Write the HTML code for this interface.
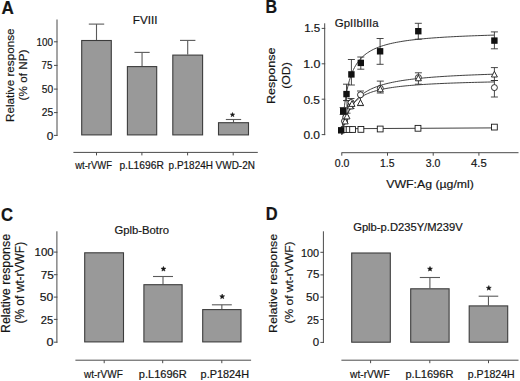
<!DOCTYPE html>
<html><head><meta charset="utf-8"><style>
html,body{margin:0;padding:0;background:#fff;width:520px;height:381px;overflow:hidden;}
svg{display:block;font-family:"Liberation Sans", sans-serif;}
text{fill:#151515;}
</style></head><body>
<svg width="520" height="381" viewBox="0 0 520 381">
<rect width="520" height="381" fill="#fff"/>
<text x="1.40" y="14.33" font-size="17.50" font-weight="bold" textLength="12.31" lengthAdjust="spacingAndGlyphs" stroke="#151515" stroke-width="0.2">A</text>
<text x="132.80" y="23.80" font-size="10.90" font-weight="normal" textLength="24.65" lengthAdjust="spacingAndGlyphs" stroke="#151515" stroke-width="0.18">FVIII</text>
<text x="36.60" y="45.95" font-size="10.30" font-weight="normal" textLength="16.50" lengthAdjust="spacingAndGlyphs" stroke="#151515" stroke-width="0.18">100</text>
<text x="41.60" y="69.00" font-size="10.30" font-weight="normal" textLength="10.86" lengthAdjust="spacingAndGlyphs" stroke="#151515" stroke-width="0.18">75</text>
<text x="41.80" y="92.85" font-size="10.30" font-weight="normal" textLength="11.42" lengthAdjust="spacingAndGlyphs" stroke="#151515" stroke-width="0.18">50</text>
<text x="41.80" y="116.45" font-size="10.30" font-weight="normal" textLength="11.42" lengthAdjust="spacingAndGlyphs" stroke="#151515" stroke-width="0.18">25</text>
<text x="46.80" y="140.05" font-size="10.30" font-weight="normal" textLength="6.60" lengthAdjust="spacingAndGlyphs" stroke="#151515" stroke-width="0.18">0</text>
<text transform="translate(14.15,122.00) rotate(-90)" font-size="11.20" font-weight="normal" textLength="93.54" lengthAdjust="spacingAndGlyphs" stroke="#151515" stroke-width="0.18">Relative response</text>
<text transform="translate(27.40,100.40) rotate(-90)" font-size="11.20" font-weight="normal" textLength="50.84" lengthAdjust="spacingAndGlyphs" stroke="#151515" stroke-width="0.18">(% of NP)</text>
<text x="75.20" y="169.05" font-size="10.20" font-weight="normal" textLength="36.79" lengthAdjust="spacingAndGlyphs" stroke="#151515" stroke-width="0.18">wt-rVWF</text>
<text x="119.40" y="169.35" font-size="10.20" font-weight="normal" textLength="44.41" lengthAdjust="spacingAndGlyphs" stroke="#151515" stroke-width="0.18">p.L1696R</text>
<text x="168.60" y="169.35" font-size="10.20" font-weight="normal" textLength="44.38" lengthAdjust="spacingAndGlyphs" stroke="#151515" stroke-width="0.18">p.P1824H</text>
<text x="215.60" y="169.05" font-size="10.20" font-weight="normal" textLength="39.30" lengthAdjust="spacingAndGlyphs" stroke="#151515" stroke-width="0.18">VWD-2N</text>
<line x1="57.00" y1="19.50" x2="57.00" y2="135.90" stroke="#4a4a4a" stroke-width="1"/>
<line x1="54.00" y1="41.80" x2="57.50" y2="41.80" stroke="#4a4a4a" stroke-width="1"/>
<line x1="54.00" y1="65.40" x2="57.50" y2="65.40" stroke="#4a4a4a" stroke-width="1"/>
<line x1="54.00" y1="89.10" x2="57.50" y2="89.10" stroke="#4a4a4a" stroke-width="1"/>
<line x1="54.00" y1="112.60" x2="57.50" y2="112.60" stroke="#4a4a4a" stroke-width="1"/>
<line x1="54.00" y1="135.40" x2="57.50" y2="135.40" stroke="#4a4a4a" stroke-width="1"/>
<line x1="96.50" y1="40.00" x2="96.50" y2="24.10" stroke="#5a5a5a" stroke-width="1.1"/>
<line x1="88.80" y1="24.10" x2="104.20" y2="24.10" stroke="#5a5a5a" stroke-width="1.1"/>
<rect x="81.70" y="40.50" width="29.60" height="94.40" fill="#999999" stroke="#3c3c3c" stroke-width="1.1"/>
<line x1="142.05" y1="66.10" x2="142.05" y2="52.40" stroke="#5a5a5a" stroke-width="1.1"/>
<line x1="134.45" y1="52.40" x2="149.65" y2="52.40" stroke="#5a5a5a" stroke-width="1.1"/>
<rect x="127.40" y="66.60" width="29.30" height="68.30" fill="#999999" stroke="#3c3c3c" stroke-width="1.1"/>
<line x1="187.70" y1="54.60" x2="187.70" y2="40.40" stroke="#5a5a5a" stroke-width="1.1"/>
<line x1="180.00" y1="40.40" x2="195.40" y2="40.40" stroke="#5a5a5a" stroke-width="1.1"/>
<rect x="172.80" y="55.10" width="29.80" height="79.80" fill="#999999" stroke="#3c3c3c" stroke-width="1.1"/>
<line x1="233.50" y1="122.20" x2="233.50" y2="119.50" stroke="#5a5a5a" stroke-width="1.1"/>
<line x1="225.85" y1="119.50" x2="241.15" y2="119.50" stroke="#5a5a5a" stroke-width="1.1"/>
<rect x="218.50" y="122.70" width="30.00" height="12.20" fill="#999999" stroke="#3c3c3c" stroke-width="1.1"/>
<path d="M232.50,112.50 L233.09,113.99 L234.69,114.09 L233.45,115.11 L233.85,116.66 L232.50,115.80 L231.15,116.66 L231.55,115.11 L230.31,114.09 L231.91,113.99 Z" fill="#151515" stroke="#151515" stroke-width="0.5" stroke-linejoin="round"/>
<line x1="73.40" y1="152.40" x2="257.80" y2="152.40" stroke="#4a4a4a" stroke-width="1"/>
<line x1="96.50" y1="152.40" x2="96.50" y2="155.40" stroke="#4a4a4a" stroke-width="1"/>
<line x1="141.90" y1="152.40" x2="141.90" y2="155.40" stroke="#4a4a4a" stroke-width="1"/>
<line x1="187.60" y1="152.40" x2="187.60" y2="155.40" stroke="#4a4a4a" stroke-width="1"/>
<line x1="233.20" y1="152.40" x2="233.20" y2="155.40" stroke="#4a4a4a" stroke-width="1"/>
<text x="265.60" y="13.48" font-size="17.50" font-weight="bold" textLength="11.59" lengthAdjust="spacingAndGlyphs" stroke="#151515" stroke-width="0.2">B</text>
<text x="334.80" y="26.80" font-size="11.40" font-weight="normal" textLength="43.86" lengthAdjust="spacingAndGlyphs" stroke="#151515" stroke-width="0.18">GpIIbIIIa</text>
<text x="304.20" y="31.85" font-size="10.70" font-weight="normal" textLength="16.04" lengthAdjust="spacingAndGlyphs" stroke="#151515" stroke-width="0.18">1.5</text>
<text x="303.20" y="67.65" font-size="10.70" font-weight="normal" textLength="17.21" lengthAdjust="spacingAndGlyphs" stroke="#151515" stroke-width="0.18">1.0</text>
<text x="303.40" y="104.05" font-size="10.70" font-weight="normal" textLength="16.64" lengthAdjust="spacingAndGlyphs" stroke="#151515" stroke-width="0.18">0.5</text>
<text x="303.40" y="139.25" font-size="10.70" font-weight="normal" textLength="16.64" lengthAdjust="spacingAndGlyphs" stroke="#151515" stroke-width="0.18">0.0</text>
<text transform="translate(274.75,104.00) rotate(-90)" font-size="10.20" font-weight="normal" textLength="56.37" lengthAdjust="spacingAndGlyphs" stroke="#151515" stroke-width="0.18">Response</text>
<text transform="translate(290.05,88.80) rotate(-90)" font-size="10.20" font-weight="normal" textLength="26.58" lengthAdjust="spacingAndGlyphs" stroke="#151515" stroke-width="0.18">(OD)</text>
<text x="334.80" y="166.75" font-size="10.10" font-weight="normal" textLength="14.62" lengthAdjust="spacingAndGlyphs" stroke="#151515" stroke-width="0.18">0.0</text>
<text x="380.00" y="166.75" font-size="10.10" font-weight="normal" textLength="14.49" lengthAdjust="spacingAndGlyphs" stroke="#151515" stroke-width="0.18">1.5</text>
<text x="425.80" y="166.75" font-size="10.10" font-weight="normal" textLength="14.62" lengthAdjust="spacingAndGlyphs" stroke="#151515" stroke-width="0.18">3.0</text>
<text x="471.00" y="166.75" font-size="10.10" font-weight="normal" textLength="15.72" lengthAdjust="spacingAndGlyphs" stroke="#151515" stroke-width="0.18">4.5</text>
<text x="386.20" y="187.75" font-size="11.20" font-weight="normal" textLength="87.77" lengthAdjust="spacingAndGlyphs" stroke="#151515" stroke-width="0.18">VWF:Ag (µg/ml)</text>
<line x1="324.70" y1="23.30" x2="324.70" y2="135.10" stroke="#4a4a4a" stroke-width="1"/>
<line x1="321.70" y1="28.40" x2="325.20" y2="28.40" stroke="#4a4a4a" stroke-width="1"/>
<line x1="321.70" y1="63.80" x2="325.20" y2="63.80" stroke="#4a4a4a" stroke-width="1"/>
<line x1="321.70" y1="99.20" x2="325.20" y2="99.20" stroke="#4a4a4a" stroke-width="1"/>
<line x1="321.70" y1="134.60" x2="325.20" y2="134.60" stroke="#4a4a4a" stroke-width="1"/>
<line x1="341.50" y1="152.70" x2="518.50" y2="152.70" stroke="#4a4a4a" stroke-width="1"/>
<line x1="341.80" y1="152.70" x2="341.80" y2="155.70" stroke="#4a4a4a" stroke-width="1"/>
<line x1="387.50" y1="152.70" x2="387.50" y2="155.70" stroke="#4a4a4a" stroke-width="1"/>
<line x1="433.21" y1="152.70" x2="433.21" y2="155.70" stroke="#4a4a4a" stroke-width="1"/>
<line x1="478.92" y1="152.70" x2="478.92" y2="155.70" stroke="#4a4a4a" stroke-width="1"/>
<path d="M341.80,134.60 L341.82,134.32 L341.88,133.49 L341.97,132.15 L342.10,130.31 L342.27,128.06 L342.48,125.43 L342.72,122.50 L343.00,119.34 L343.32,116.01 L343.68,112.58 L344.08,109.09 L344.51,105.59 L344.98,102.12 L345.49,98.72 L346.03,95.41 L346.62,92.21 L347.24,89.14 L347.89,86.19 L348.59,83.38 L349.32,80.72 L350.09,78.19 L350.90,75.79 L351.75,73.54 L352.63,71.40 L353.56,69.40 L354.51,67.51 L355.51,65.73 L356.55,64.05 L357.62,62.48 L358.73,61.00 L359.88,59.60 L361.06,58.29 L362.28,57.06 L363.54,55.89 L364.84,54.80 L366.18,53.76 L367.55,52.79 L368.96,51.87 L370.41,51.00 L371.89,50.18 L373.42,49.41 L374.98,48.67 L376.58,47.98 L378.21,47.32 L379.89,46.70 L381.60,46.11 L383.35,45.55 L385.14,45.01 L386.96,44.51 L388.82,44.02 L390.72,43.56 L392.66,43.13 L394.63,42.71 L396.65,42.32 L398.70,41.94 L400.78,41.58 L402.91,41.23 L405.07,40.90 L407.27,40.59 L409.51,40.29 L411.79,40.00 L414.10,39.72 L416.45,39.46 L418.84,39.20 L421.27,38.96 L423.73,38.72 L426.23,38.50 L428.77,38.29 L431.35,38.08 L433.96,37.88 L436.61,37.69 L439.30,37.50 L442.03,37.33 L444.80,37.15 L447.60,36.99 L450.44,36.83 L453.32,36.68 L456.23,36.53 L459.18,36.39 L462.18,36.25 L465.20,36.12 L468.27,35.99 L471.37,35.86 L474.51,35.74 L477.69,35.63 L480.91,35.52 L484.16,35.41 L487.45,35.30 L490.78,35.20 L494.15,35.10" fill="none" stroke="#2a2a2a" stroke-width="0.9"/>
<path d="M341.80,134.60 L341.82,134.50 L341.88,134.22 L341.97,133.75 L342.10,133.10 L342.27,132.28 L342.48,131.31 L342.72,130.20 L343.00,128.97 L343.32,127.63 L343.68,126.21 L344.08,124.71 L344.51,123.16 L344.98,121.57 L345.49,119.95 L346.03,118.33 L346.62,116.70 L347.24,115.08 L347.89,113.47 L348.59,111.90 L349.32,110.35 L350.09,108.85 L350.90,107.38 L351.75,105.95 L352.63,104.58 L353.56,103.24 L354.51,101.96 L355.51,100.73 L356.55,99.54 L357.62,98.40 L358.73,97.31 L359.88,96.26 L361.06,95.25 L362.28,94.29 L363.54,93.37 L364.84,92.50 L366.18,91.66 L367.55,90.85 L368.96,90.09 L370.41,89.35 L371.89,88.65 L373.42,87.98 L374.98,87.34 L376.58,86.73 L378.21,86.14 L379.89,85.58 L381.60,85.04 L383.35,84.53 L385.14,84.04 L386.96,83.57 L388.82,83.12 L390.72,82.69 L392.66,82.28 L394.63,81.88 L396.65,81.50 L398.70,81.14 L400.78,80.79 L402.91,80.45 L405.07,80.13 L407.27,79.82 L409.51,79.52 L411.79,79.23 L414.10,78.96 L416.45,78.69 L418.84,78.44 L421.27,78.19 L423.73,77.96 L426.23,77.73 L428.77,77.51 L431.35,77.30 L433.96,77.09 L436.61,76.90 L439.30,76.71 L442.03,76.52 L444.80,76.35 L447.60,76.18 L450.44,76.01 L453.32,75.85 L456.23,75.70 L459.18,75.55 L462.18,75.40 L465.20,75.26 L468.27,75.13 L471.37,75.00 L474.51,74.87 L477.69,74.75 L480.91,74.63 L484.16,74.51 L487.45,74.40 L490.78,74.29 L494.15,74.18" fill="none" stroke="#2a2a2a" stroke-width="0.9"/>
<path d="M341.80,134.60 L341.82,134.49 L341.88,134.16 L341.97,133.62 L342.10,132.87 L342.27,131.95 L342.48,130.86 L342.72,129.63 L343.00,128.28 L343.32,126.83 L343.68,125.31 L344.08,123.74 L344.51,122.14 L344.98,120.52 L345.49,118.90 L346.03,117.29 L346.62,115.72 L347.24,114.17 L347.89,112.67 L348.59,111.21 L349.32,109.80 L350.09,108.45 L350.90,107.15 L351.75,105.91 L352.63,104.72 L353.56,103.59 L354.51,102.51 L355.51,101.48 L356.55,100.51 L357.62,99.58 L358.73,98.70 L359.88,97.87 L361.06,97.07 L362.28,96.32 L363.54,95.61 L364.84,94.93 L366.18,94.29 L367.55,93.68 L368.96,93.10 L370.41,92.55 L371.89,92.03 L373.42,91.53 L374.98,91.06 L376.58,90.61 L378.21,90.19 L379.89,89.78 L381.60,89.40 L383.35,89.03 L385.14,88.68 L386.96,88.34 L388.82,88.02 L390.72,87.72 L392.66,87.43 L394.63,87.15 L396.65,86.89 L398.70,86.63 L400.78,86.39 L402.91,86.16 L405.07,85.93 L407.27,85.72 L409.51,85.52 L411.79,85.32 L414.10,85.13 L416.45,84.95 L418.84,84.78 L421.27,84.61 L423.73,84.45 L426.23,84.30 L428.77,84.15 L431.35,84.00 L433.96,83.87 L436.61,83.74 L439.30,83.61 L442.03,83.49 L444.80,83.37 L447.60,83.25 L450.44,83.14 L453.32,83.04 L456.23,82.93 L459.18,82.83 L462.18,82.74 L465.20,82.64 L468.27,82.56 L471.37,82.47 L474.51,82.38 L477.69,82.30 L480.91,82.22 L484.16,82.15 L487.45,82.07 L490.78,82.00 L494.15,81.93" fill="none" stroke="#2a2a2a" stroke-width="0.9"/>
<path d="M341.5,129.8 L344,129.2 L350,128.7 L380,128.5 L494.4,127.9" fill="none" stroke="#2a2a2a" stroke-width="0.9"/>
<line x1="494.40" y1="67.60" x2="494.40" y2="80.50" stroke="#333" stroke-width="0.9"/>
<line x1="490.90" y1="67.60" x2="497.90" y2="67.60" stroke="#333" stroke-width="0.9"/>
<line x1="490.90" y1="80.50" x2="497.90" y2="80.50" stroke="#333" stroke-width="0.9"/>
<line x1="494.40" y1="80.50" x2="494.40" y2="97.00" stroke="#333" stroke-width="0.9"/>
<line x1="490.90" y1="80.50" x2="497.90" y2="80.50" stroke="#333" stroke-width="0.9"/>
<line x1="490.90" y1="97.00" x2="497.90" y2="97.00" stroke="#333" stroke-width="0.9"/>
<line x1="418.40" y1="72.80" x2="418.40" y2="84.20" stroke="#333" stroke-width="0.9"/>
<line x1="414.90" y1="72.80" x2="421.90" y2="72.80" stroke="#333" stroke-width="0.9"/>
<line x1="414.90" y1="84.20" x2="421.90" y2="84.20" stroke="#333" stroke-width="0.9"/>
<line x1="380.30" y1="81.10" x2="380.30" y2="93.00" stroke="#333" stroke-width="0.9"/>
<line x1="376.80" y1="81.10" x2="383.80" y2="81.10" stroke="#333" stroke-width="0.9"/>
<line x1="376.80" y1="93.00" x2="383.80" y2="93.00" stroke="#333" stroke-width="0.9"/>
<line x1="360.50" y1="91.00" x2="360.50" y2="105.60" stroke="#333" stroke-width="0.9"/>
<line x1="357.00" y1="91.00" x2="364.00" y2="91.00" stroke="#333" stroke-width="0.9"/>
<line x1="357.00" y1="105.60" x2="364.00" y2="105.60" stroke="#333" stroke-width="0.9"/>
<line x1="351.00" y1="98.50" x2="351.00" y2="108.50" stroke="#333" stroke-width="0.9"/>
<line x1="347.50" y1="98.50" x2="354.50" y2="98.50" stroke="#333" stroke-width="0.9"/>
<line x1="347.50" y1="108.50" x2="354.50" y2="108.50" stroke="#333" stroke-width="0.9"/>
<line x1="347.00" y1="100.70" x2="347.00" y2="113.20" stroke="#333" stroke-width="0.9"/>
<line x1="343.50" y1="100.70" x2="350.50" y2="100.70" stroke="#333" stroke-width="0.9"/>
<line x1="343.50" y1="113.20" x2="350.50" y2="113.20" stroke="#333" stroke-width="0.9"/>
<rect x="341.30" y="126.70" width="5.8" height="5.8" fill="#fff" stroke="#1a1a1a" stroke-width="0.9"/>
<rect x="346.20" y="126.60" width="5.8" height="5.8" fill="#fff" stroke="#1a1a1a" stroke-width="0.9"/>
<rect x="349.70" y="126.60" width="5.8" height="5.8" fill="#fff" stroke="#1a1a1a" stroke-width="0.9"/>
<rect x="358.00" y="126.50" width="5.8" height="5.8" fill="#fff" stroke="#1a1a1a" stroke-width="0.9"/>
<rect x="377.30" y="126.10" width="5.8" height="5.8" fill="#fff" stroke="#1a1a1a" stroke-width="0.9"/>
<rect x="415.10" y="125.40" width="5.8" height="5.8" fill="#fff" stroke="#1a1a1a" stroke-width="0.9"/>
<rect x="491.50" y="124.20" width="5.8" height="5.8" fill="#fff" stroke="#1a1a1a" stroke-width="0.9"/>
<circle cx="344.5" cy="121.1" r="3.0" fill="#fff" stroke="#1a1a1a" stroke-width="0.9"/>
<circle cx="345.8" cy="117.2" r="3.0" fill="#fff" stroke="#1a1a1a" stroke-width="0.9"/>
<circle cx="350.4" cy="106.0" r="3.0" fill="#fff" stroke="#1a1a1a" stroke-width="0.9"/>
<circle cx="351.1" cy="102.5" r="3.0" fill="#fff" stroke="#1a1a1a" stroke-width="0.9"/>
<circle cx="360.5" cy="94.8" r="3.0" fill="#fff" stroke="#1a1a1a" stroke-width="0.9"/>
<circle cx="380.3" cy="88.4" r="3.0" fill="#fff" stroke="#1a1a1a" stroke-width="0.9"/>
<circle cx="418.4" cy="77.6" r="3.0" fill="#fff" stroke="#1a1a1a" stroke-width="0.9"/>
<circle cx="494.4" cy="87.6" r="3.0" fill="#fff" stroke="#1a1a1a" stroke-width="0.9"/>
<path d="M345.20,118.20 L348.20,123.90 L342.20,123.90 Z" fill="#fff" stroke="#1a1a1a" stroke-width="0.9"/>
<path d="M347.00,113.20 L350.00,118.90 L344.00,118.90 Z" fill="#fff" stroke="#1a1a1a" stroke-width="0.9"/>
<path d="M350.40,103.20 L353.40,108.90 L347.40,108.90 Z" fill="#fff" stroke="#1a1a1a" stroke-width="0.9"/>
<path d="M352.00,100.70 L355.00,106.40 L349.00,106.40 Z" fill="#fff" stroke="#1a1a1a" stroke-width="0.9"/>
<path d="M360.50,99.70 L363.50,105.40 L357.50,105.40 Z" fill="#fff" stroke="#1a1a1a" stroke-width="0.9"/>
<path d="M380.30,86.10 L383.30,91.80 L377.30,91.80 Z" fill="#fff" stroke="#1a1a1a" stroke-width="0.9"/>
<path d="M418.40,75.10 L421.40,80.80 L415.40,80.80 Z" fill="#fff" stroke="#1a1a1a" stroke-width="0.9"/>
<path d="M494.40,71.30 L497.40,77.00 L491.40,77.00 Z" fill="#fff" stroke="#1a1a1a" stroke-width="0.9"/>
<line x1="343.20" y1="107.50" x2="343.20" y2="114.50" stroke="#333" stroke-width="0.9"/>
<line x1="339.70" y1="107.50" x2="346.70" y2="107.50" stroke="#333" stroke-width="0.9"/>
<line x1="339.70" y1="114.50" x2="346.70" y2="114.50" stroke="#333" stroke-width="0.9"/>
<line x1="346.50" y1="84.20" x2="346.50" y2="100.50" stroke="#333" stroke-width="0.9"/>
<line x1="343.00" y1="84.20" x2="350.00" y2="84.20" stroke="#333" stroke-width="0.9"/>
<line x1="343.00" y1="100.50" x2="350.00" y2="100.50" stroke="#333" stroke-width="0.9"/>
<line x1="351.40" y1="59.50" x2="351.40" y2="85.00" stroke="#333" stroke-width="0.9"/>
<line x1="347.90" y1="59.50" x2="354.90" y2="59.50" stroke="#333" stroke-width="0.9"/>
<line x1="347.90" y1="85.00" x2="354.90" y2="85.00" stroke="#333" stroke-width="0.9"/>
<line x1="360.80" y1="57.00" x2="360.80" y2="69.20" stroke="#333" stroke-width="0.9"/>
<line x1="357.30" y1="57.00" x2="364.30" y2="57.00" stroke="#333" stroke-width="0.9"/>
<line x1="357.30" y1="69.20" x2="364.30" y2="69.20" stroke="#333" stroke-width="0.9"/>
<line x1="380.10" y1="38.50" x2="380.10" y2="64.30" stroke="#333" stroke-width="0.9"/>
<line x1="376.60" y1="38.50" x2="383.60" y2="38.50" stroke="#333" stroke-width="0.9"/>
<line x1="376.60" y1="64.30" x2="383.60" y2="64.30" stroke="#333" stroke-width="0.9"/>
<line x1="418.30" y1="23.30" x2="418.30" y2="39.20" stroke="#333" stroke-width="0.9"/>
<line x1="414.80" y1="23.30" x2="421.80" y2="23.30" stroke="#333" stroke-width="0.9"/>
<line x1="414.80" y1="39.20" x2="421.80" y2="39.20" stroke="#333" stroke-width="0.9"/>
<line x1="494.40" y1="31.90" x2="494.40" y2="48.80" stroke="#333" stroke-width="0.9"/>
<line x1="490.90" y1="31.90" x2="497.90" y2="31.90" stroke="#333" stroke-width="0.9"/>
<line x1="490.90" y1="48.80" x2="497.90" y2="48.80" stroke="#333" stroke-width="0.9"/>
<rect x="338.00" y="127.10" width="6.4" height="6.4" fill="#111"/>
<rect x="340.00" y="108.00" width="6.4" height="6.4" fill="#111"/>
<rect x="343.30" y="90.90" width="6.4" height="6.4" fill="#111"/>
<rect x="348.20" y="71.20" width="6.4" height="6.4" fill="#111"/>
<rect x="357.60" y="59.70" width="6.4" height="6.4" fill="#111"/>
<rect x="376.90" y="48.10" width="6.4" height="6.4" fill="#111"/>
<rect x="415.10" y="28.00" width="6.4" height="6.4" fill="#111"/>
<rect x="491.20" y="37.40" width="6.4" height="6.4" fill="#111"/>
<text x="0.90" y="220.85" font-size="17.50" font-weight="bold" textLength="12.07" lengthAdjust="spacingAndGlyphs" stroke="#151515" stroke-width="0.2">C</text>
<text x="114.40" y="234.00" font-size="10.60" font-weight="normal" textLength="54.54" lengthAdjust="spacingAndGlyphs" stroke="#151515" stroke-width="0.18">Gplb-Botro</text>
<text x="34.60" y="256.00" font-size="10.30" font-weight="normal" textLength="19.16" lengthAdjust="spacingAndGlyphs" stroke="#151515" stroke-width="0.18">100</text>
<text x="40.80" y="279.10" font-size="10.30" font-weight="normal" textLength="13.13" lengthAdjust="spacingAndGlyphs" stroke="#151515" stroke-width="0.18">75</text>
<text x="39.80" y="301.10" font-size="10.30" font-weight="normal" textLength="13.44" lengthAdjust="spacingAndGlyphs" stroke="#151515" stroke-width="0.18">50</text>
<text x="40.80" y="323.90" font-size="10.30" font-weight="normal" textLength="12.41" lengthAdjust="spacingAndGlyphs" stroke="#151515" stroke-width="0.18">25</text>
<text x="46.60" y="345.70" font-size="10.30" font-weight="normal" textLength="7.04" lengthAdjust="spacingAndGlyphs" stroke="#151515" stroke-width="0.18">0</text>
<text transform="translate(10.10,333.00) rotate(-90)" font-size="12.00" font-weight="normal" textLength="99.07" lengthAdjust="spacingAndGlyphs" stroke="#151515" stroke-width="0.18">Relative response</text>
<text transform="translate(23.75,323.60) rotate(-90)" font-size="12.00" font-weight="normal" textLength="81.76" lengthAdjust="spacingAndGlyphs" stroke="#151515" stroke-width="0.18">(% of wt-rVWF)</text>
<text x="84.00" y="377.75" font-size="10.20" font-weight="normal" textLength="38.78" lengthAdjust="spacingAndGlyphs" stroke="#151515" stroke-width="0.18">wt-rVWF</text>
<text x="138.80" y="377.95" font-size="10.20" font-weight="normal" textLength="47.96" lengthAdjust="spacingAndGlyphs" stroke="#151515" stroke-width="0.18">p.L1696R</text>
<text x="200.60" y="378.25" font-size="10.20" font-weight="normal" textLength="48.45" lengthAdjust="spacingAndGlyphs" stroke="#151515" stroke-width="0.18">p.P1824H</text>
<line x1="56.90" y1="231.30" x2="56.90" y2="342.70" stroke="#4a4a4a" stroke-width="1"/>
<line x1="53.90" y1="252.10" x2="57.40" y2="252.10" stroke="#4a4a4a" stroke-width="1"/>
<line x1="53.90" y1="274.70" x2="57.40" y2="274.70" stroke="#4a4a4a" stroke-width="1"/>
<line x1="53.90" y1="297.10" x2="57.40" y2="297.10" stroke="#4a4a4a" stroke-width="1"/>
<line x1="53.90" y1="319.40" x2="57.40" y2="319.40" stroke="#4a4a4a" stroke-width="1"/>
<line x1="53.90" y1="342.20" x2="57.40" y2="342.20" stroke="#4a4a4a" stroke-width="1"/>
<rect x="84.70" y="252.80" width="38.80" height="89.10" fill="#999999" stroke="#3c3c3c" stroke-width="1.1"/>
<line x1="163.00" y1="284.20" x2="163.00" y2="276.50" stroke="#5a5a5a" stroke-width="1.1"/>
<line x1="153.00" y1="276.50" x2="173.00" y2="276.50" stroke="#5a5a5a" stroke-width="1.1"/>
<rect x="143.90" y="284.70" width="38.20" height="57.20" fill="#999999" stroke="#3c3c3c" stroke-width="1.1"/>
<path d="M163.45,266.40 L164.13,268.07 L165.92,268.20 L164.54,269.36 L164.98,271.10 L163.45,270.15 L161.92,271.10 L162.36,269.36 L160.98,268.20 L162.77,268.07 Z" fill="#151515" stroke="#151515" stroke-width="0.5" stroke-linejoin="round"/>
<line x1="221.85" y1="309.10" x2="221.85" y2="304.80" stroke="#5a5a5a" stroke-width="1.1"/>
<line x1="211.90" y1="304.80" x2="231.80" y2="304.80" stroke="#5a5a5a" stroke-width="1.1"/>
<rect x="202.70" y="309.60" width="38.30" height="32.30" fill="#999999" stroke="#3c3c3c" stroke-width="1.1"/>
<path d="M222.20,294.00 L222.88,295.67 L224.67,295.80 L223.29,296.96 L223.73,298.70 L222.20,297.75 L220.67,298.70 L221.11,296.96 L219.73,295.80 L221.52,295.67 Z" fill="#151515" stroke="#151515" stroke-width="0.5" stroke-linejoin="round"/>
<line x1="75.40" y1="360.20" x2="251.10" y2="360.20" stroke="#4a4a4a" stroke-width="1"/>
<line x1="104.20" y1="360.20" x2="104.20" y2="363.20" stroke="#4a4a4a" stroke-width="1"/>
<line x1="162.70" y1="360.20" x2="162.70" y2="363.20" stroke="#4a4a4a" stroke-width="1"/>
<line x1="221.80" y1="360.20" x2="221.80" y2="363.20" stroke="#4a4a4a" stroke-width="1"/>
<text x="265.80" y="220.45" font-size="17.50" font-weight="bold" textLength="11.86" lengthAdjust="spacingAndGlyphs" stroke="#151515" stroke-width="0.2">D</text>
<text x="353.20" y="230.75" font-size="10.60" font-weight="normal" textLength="109.49" lengthAdjust="spacingAndGlyphs" stroke="#151515" stroke-width="0.18">Gplb-p.D235Y/M239V</text>
<text x="301.00" y="256.75" font-size="10.30" font-weight="normal" textLength="18.09" lengthAdjust="spacingAndGlyphs" stroke="#151515" stroke-width="0.18">100</text>
<text x="306.60" y="278.35" font-size="10.30" font-weight="normal" textLength="12.97" lengthAdjust="spacingAndGlyphs" stroke="#151515" stroke-width="0.18">75</text>
<text x="306.00" y="301.10" font-size="10.30" font-weight="normal" textLength="12.97" lengthAdjust="spacingAndGlyphs" stroke="#151515" stroke-width="0.18">50</text>
<text x="307.00" y="323.90" font-size="10.30" font-weight="normal" textLength="11.89" lengthAdjust="spacingAndGlyphs" stroke="#151515" stroke-width="0.18">25</text>
<text x="312.80" y="345.70" font-size="10.30" font-weight="normal" textLength="6.37" lengthAdjust="spacingAndGlyphs" stroke="#151515" stroke-width="0.18">0</text>
<text transform="translate(277.40,333.00) rotate(-90)" font-size="11.80" font-weight="normal" textLength="99.20" lengthAdjust="spacingAndGlyphs" stroke="#151515" stroke-width="0.18">Relative response</text>
<text transform="translate(293.10,323.60) rotate(-90)" font-size="11.80" font-weight="normal" textLength="82.20" lengthAdjust="spacingAndGlyphs" stroke="#151515" stroke-width="0.18">(% of wt-rVWF)</text>
<text x="350.00" y="378.20" font-size="10.20" font-weight="normal" textLength="39.78" lengthAdjust="spacingAndGlyphs" stroke="#151515" stroke-width="0.18">wt-rVWF</text>
<text x="405.40" y="378.25" font-size="10.20" font-weight="normal" textLength="48.04" lengthAdjust="spacingAndGlyphs" stroke="#151515" stroke-width="0.18">p.L1696R</text>
<text x="467.80" y="378.25" font-size="10.20" font-weight="normal" textLength="46.93" lengthAdjust="spacingAndGlyphs" stroke="#151515" stroke-width="0.18">p.P1824H</text>
<line x1="323.40" y1="231.30" x2="323.40" y2="342.90" stroke="#4a4a4a" stroke-width="1"/>
<line x1="320.40" y1="252.30" x2="323.90" y2="252.30" stroke="#4a4a4a" stroke-width="1"/>
<line x1="320.40" y1="274.90" x2="323.90" y2="274.90" stroke="#4a4a4a" stroke-width="1"/>
<line x1="320.40" y1="297.10" x2="323.90" y2="297.10" stroke="#4a4a4a" stroke-width="1"/>
<line x1="320.40" y1="319.50" x2="323.90" y2="319.50" stroke="#4a4a4a" stroke-width="1"/>
<line x1="320.40" y1="342.40" x2="323.90" y2="342.40" stroke="#4a4a4a" stroke-width="1"/>
<rect x="351.70" y="253.00" width="38.60" height="89.20" fill="#999999" stroke="#3c3c3c" stroke-width="1.1"/>
<line x1="429.90" y1="288.30" x2="429.90" y2="277.50" stroke="#5a5a5a" stroke-width="1.1"/>
<line x1="419.80" y1="277.50" x2="440.00" y2="277.50" stroke="#5a5a5a" stroke-width="1.1"/>
<rect x="410.70" y="288.80" width="38.40" height="53.40" fill="#999999" stroke="#3c3c3c" stroke-width="1.1"/>
<path d="M430.00,266.40 L430.68,268.07 L432.47,268.20 L431.09,269.36 L431.53,271.10 L430.00,270.15 L428.47,271.10 L428.91,269.36 L427.53,268.20 L429.32,268.07 Z" fill="#151515" stroke="#151515" stroke-width="0.5" stroke-linejoin="round"/>
<line x1="488.45" y1="305.40" x2="488.45" y2="296.20" stroke="#5a5a5a" stroke-width="1.1"/>
<line x1="478.65" y1="296.20" x2="498.25" y2="296.20" stroke="#5a5a5a" stroke-width="1.1"/>
<rect x="469.20" y="305.90" width="38.50" height="36.30" fill="#999999" stroke="#3c3c3c" stroke-width="1.1"/>
<path d="M488.80,285.50 L489.48,287.17 L491.27,287.30 L489.89,288.46 L490.33,290.20 L488.80,289.25 L487.27,290.20 L487.71,288.46 L486.33,287.30 L488.12,287.17 Z" fill="#151515" stroke="#151515" stroke-width="0.5" stroke-linejoin="round"/>
<line x1="341.40" y1="360.20" x2="518.50" y2="360.20" stroke="#4a4a4a" stroke-width="1"/>
<line x1="370.60" y1="360.20" x2="370.60" y2="363.20" stroke="#4a4a4a" stroke-width="1"/>
<line x1="429.80" y1="360.20" x2="429.80" y2="363.20" stroke="#4a4a4a" stroke-width="1"/>
<line x1="488.50" y1="360.20" x2="488.50" y2="363.20" stroke="#4a4a4a" stroke-width="1"/>
</svg>
</body></html>
